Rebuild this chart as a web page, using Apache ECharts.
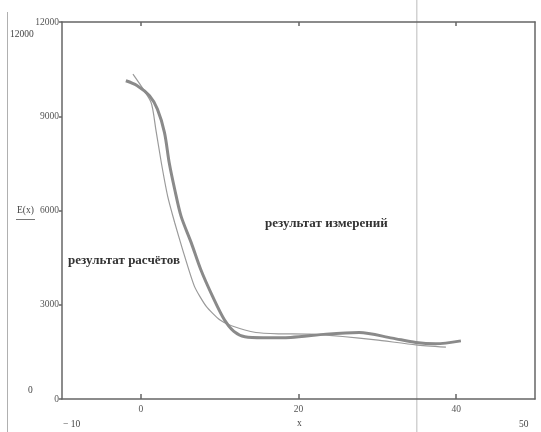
<!DOCTYPE html>
<html>
<head>
<meta charset="utf-8">
<title>E(x)</title>
<script src="https://cdn.jsdelivr.net/npm/echarts@6/dist/echarts.min.js"></script>
<style>
html, body {margin: 0; padding: 0; background: #fff;}
#main {width: 541px; height: 432px;}
</style>
</head>
<body>
<div id="main"></div>
<script type="text/javascript">
// thick curve
var thickX = [-1.9, -0.5, 1.1, 2.1, 3.0, 3.6, 4.3, 5.1, 6.4, 7.6, 9.1, 10.6, 11.8, 13.2, 15.5, 19.0, 23.5, 27.7, 31.9, 34.9, 37.4, 40.6];
var thickY = [10130, 9980, 9650, 9225, 8480, 7520, 6670, 5820, 4970, 4120, 3265, 2520, 2150, 1980, 1950, 1960, 2065, 2116, 1937, 1797, 1755, 1850];
// thin curve
var thinX = [-1.0, 1.3, 1.9, 2.6, 3.4, 4.3, 5.3, 6.8, 8.3, 10.0, 11.5, 14.6, 17.6, 21.4, 25.6, 29.8, 34.9, 38.7];
var thinY = [10340, 9440, 8585, 7520, 6460, 5610, 4755, 3585, 2945, 2520, 2330, 2116, 2075, 2065, 1990, 1883, 1724, 1650];
var xTicks = [0, 20, 40];
var yTicks = [0, 3000, 6000, 9000, 12000];
var markerX = 35;

var serif = "'Liberation Serif', 'DejaVu Serif', serif";
var axisColor = '#666';

function pairs(xs, ys) {
  return xs.map(function (x, i) { return [x, ys[i]]; });
}
function plain(v) { return String(v); }

var chartDom = document.getElementById('main');
var myChart = echarts.init(chartDom, null, {renderer: 'canvas'});

var option = {
  animation: false,
  grid: {left: 62, right: 6, top: 22, bottom: 33},
  xAxis: [{
    type: 'value',
    position: 'bottom',
    min: -10,
    max: 50,
    interval: 10,
    axisLine: {onZero: false, lineStyle: {color: axisColor, width: 1.5}},
    axisTick: {inside: true, length: 5, customValues: xTicks, lineStyle: {color: axisColor, width: 1.5}},
    axisLabel: {customValues: xTicks, formatter: plain, color: '#555', fontFamily: serif, fontSize: 9.5, margin: 5},
    splitLine: {show: false}
  }, {
    type: 'value',
    position: 'top',
    min: -10,
    max: 50,
    interval: 10,
    axisLine: {onZero: false, lineStyle: {color: axisColor, width: 1.5}},
    axisTick: {inside: true, length: 4, customValues: xTicks, lineStyle: {color: axisColor, width: 1.5}},
    axisLabel: {show: false},
    splitLine: {show: false}
  }],
  yAxis: [{
    type: 'value',
    position: 'left',
    min: 0,
    max: 12000,
    interval: 3000,
    axisLine: {show: true, onZero: false, lineStyle: {color: axisColor, width: 1.5}},
    axisTick: {show: true, length: 3, customValues: yTicks, lineStyle: {color: axisColor, width: 1.5}},
    axisLabel: {formatter: plain, color: '#555', fontFamily: serif, fontSize: 9.5, margin: 3},
    splitLine: {show: false}
  }, {
    type: 'value',
    position: 'right',
    min: 0,
    max: 12000,
    interval: 3000,
    axisLine: {show: true, onZero: false, lineStyle: {color: axisColor, width: 1.5}},
    axisTick: {show: false},
    axisLabel: {show: false},
    splitLine: {show: false}
  }],
  series: [{
    name: 'thin',
    type: 'line',
    data: pairs(thinX, thinY),
    smooth: 0.2,
    showSymbol: false,
    lineStyle: {color: '#9a9a9a', width: 1.2}
  }, {
    name: 'thick',
    type: 'line',
    data: pairs(thickX, thickY),
    smooth: 0.3,
    showSymbol: false,
    lineStyle: {color: '#8a8a8a', width: 3}
  }]
};
myChart.setOption(option);

// vertical marker spanning the whole picture, placed through the x scale
var mx = myChart.convertToPixel({xAxisIndex: 0}, markerX);
var textStyle = function (t, x, y, extra) {
  var s = {text: t, x: x, y: y, fill: '#444', font: '9.5px ' + serif};
  if (extra) { for (var k in extra) { s[k] = extra[k]; } }
  return s;
};
myChart.setOption({
  graphic: [
    {type: 'line', shape: {x1: mx, y1: 0, x2: mx, y2: 432}, style: {stroke: '#d2d2d2', lineWidth: 1.5}, z: 0},
    {type: 'line', shape: {x1: 7.5, y1: 12, x2: 7.5, y2: 432}, style: {stroke: '#b0b0b0', lineWidth: 1}},
    {type: 'text', style: textStyle('12000', 10, 29)},
    {type: 'text', style: textStyle('0', 28, 385)},
    {type: 'text', style: textStyle('\u2212 10', 63, 419)},
    {type: 'text', style: textStyle('x', 297, 418)},
    {type: 'text', style: textStyle('50', 519, 419)},
    {type: 'text', style: textStyle('E(x)', 17, 205)},
    {type: 'line', shape: {x1: 16, y1: 219.5, x2: 35, y2: 219.5}, style: {stroke: '#777', lineWidth: 1}},
    {type: 'text', style: textStyle('результат расчётов', 68, 254, {font: 'bold 13px ' + serif, fill: '#333'})},
    {type: 'text', style: textStyle('результат измерений', 265, 217, {font: 'bold 13px ' + serif, fill: '#333'})}
  ]
});
</script>
</body>
</html>
